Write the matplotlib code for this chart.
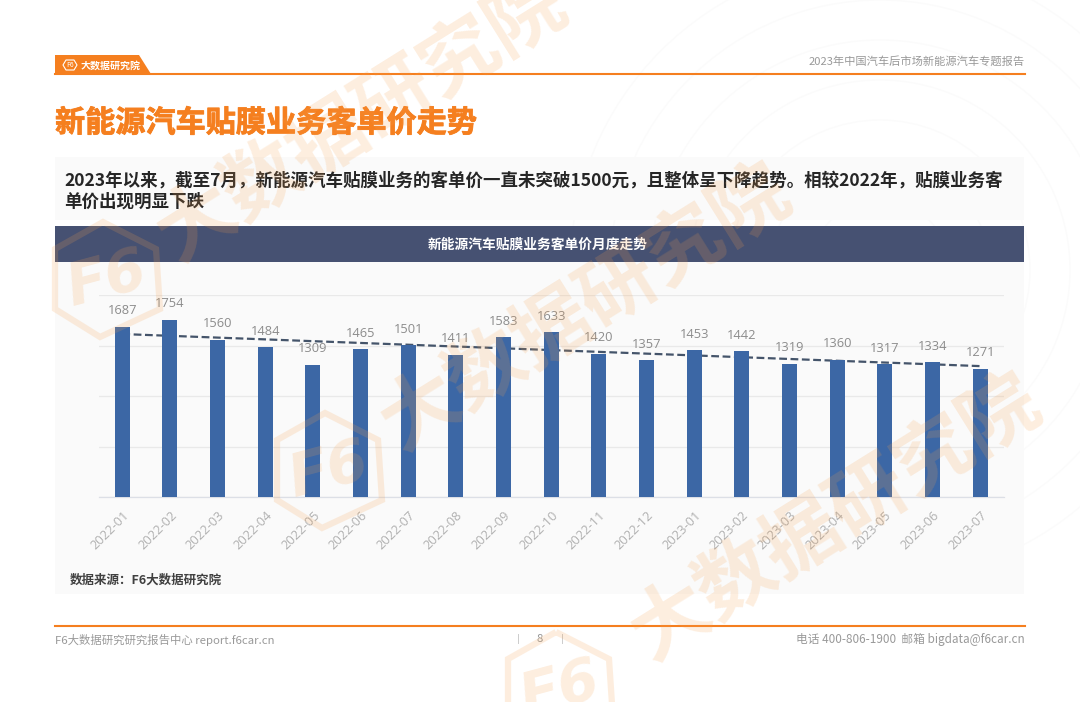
# -*- coding: utf-8 -*-
"""
New energy vehicle film business, monthly price per customer.
"""

import matplotlib
matplotlib.use('Agg')
import matplotlib.pyplot as plt
import matplotlib.patheffects as pe
from matplotlib.patches import Circle, Polygon, Rectangle

plt.rcParams['font.family'] = ['Noto Sans CJK SC', 'DejaVu Sans']

W, H = 1080, 702
ORANGE = '#f57f1f'
GREY = '#999999'

months = ['2022-01', '2022-02', '2022-03', '2022-04', '2022-05', '2022-06',
          '2022-07', '2022-08', '2022-09', '2022-10', '2022-11', '2022-12',
          '2023-01', '2023-02', '2023-03', '2023-04', '2023-05', '2023-06',
          '2023-07']
price = [1687, 1754, 1560, 1484, 1309, 1465, 1501, 1411, 1583, 1633, 1420,
         1357, 1453, 1442, 1319, 1360, 1317, 1334, 1271]
# trend line ends
trend_x = [0, 18]
trend_y = [1614, 1297]

fig = plt.figure(figsize=(W / 100, H / 100), dpi=100, facecolor='white')

# Page layer in pixel coordinates
page = fig.add_axes([0, 0, 1, 1], zorder=0)
page.set_xlim(0, W)
page.set_ylim(H, 0)
page.axis('off')

# Faint arcs behind the header
for r in [70, 110, 150, 190, 230, 270, 310]:
    page.add_patch(Circle((880, 270), r, fill=False, ec='#fbfbfb', lw=1))

page.add_patch(Rectangle((55, 157), 969, 63, color='#fafafa', lw=0))
page.add_patch(Rectangle((55, 262), 969, 332, color='#fafafa', lw=0))
page.add_patch(Rectangle((55, 226), 969, 36, color='#465172', lw=0))

# Header and footer
page.plot([55, 1025], [73.5, 73.5], color=ORANGE, lw=1.5)
page.add_patch(Polygon([(55, 55), (139, 55), (151, 74), (55, 74)],
                       closed=True, color=ORANGE, lw=0))
page.text(81, 65.5, '大数据研究院', color='white', fontsize=7.2, weight='bold',
          va='center')
page.add_patch(Polygon([(63, 65), (66, 60), (74, 60), (77, 65), (74, 70),
                        (66, 70)], closed=True, fill=False, ec='white', lw=0.8))
page.text(70, 65, 'F6', color='white', fontsize=5, ha='center', va='center',
          style='italic')
page.text(1025, 61, '2023年中国汽车后市场新能源汽车专题报告', color=GREY,
          fontsize=8.1, ha='right', va='center')

title = page.text(55, 123, '新能源汽车贴膜业务客单价走势', color=ORANGE,
                  fontsize=21.7, weight='bold', va='center')
title.set_path_effects([pe.withStroke(linewidth=0.6, foreground=ORANGE)])
page.text(64, 180.5, '2023年以来，截至7月，新能源汽车贴膜业务的客单价一直未突破1500元，且整体呈下降趋势。相较2022年，贴膜业务客',
          color='#262626', fontsize=12.6, weight='bold', va='center')
page.text(64, 202, '单价出现明显下跌', color='#262626', fontsize=12.6,
          weight='bold', va='center')
page.text(538, 244.5, '新能源汽车贴膜业务客单价月度走势', color='white',
          fontsize=9.9, weight='bold', ha='center', va='center')
page.text(70, 580, '数据来源：F6大数据研究院', color='#404040', fontsize=9,
          weight='bold', va='center')

page.plot([55, 1025], [625.5, 625.5], color=ORANGE, lw=1.5)
page.text(55, 640, 'F6大数据研究研究报告中心 report.f6car.cn', color=GREY,
          fontsize=8.2, va='center')
page.text(540, 639, '8', color=GREY, fontsize=8.2, ha='center', va='center')
page.plot([518, 518], [634, 643], color='#cccccc', lw=0.7)
page.plot([562, 562], [634, 643], color='#cccccc', lw=0.7)
page.text(1025, 640, '电话 400-806-1900  邮箱 bigdata@f6car.cn', color=GREY,
          fontsize=8.45, ha='right', va='center')

# Chart
ax = fig.add_axes([98.5 / W, 1 - 497.3 / H, 905.5 / W, 202.3 / H], zorder=1)
ax.patch.set_alpha(0)
ax.plot(trend_x, trend_y, color='#44546a', lw=1.6, ls=(0, (3.5, 1.6)), zorder=2)
ax.bar(range(len(price)), price, width=0.315, color='#3c67a5', zorder=3)
for i, value in enumerate(price):
    ax.annotate(str(value), (i, value), xytext=(0, 11.5),
                textcoords='offset points', ha='center', va='center',
                color='#8c8c8c', fontsize=9.3, family=['Open Sans', 'DejaVu Sans'],
                zorder=5)
ax.set_xlim(-0.5, 18.5)
ax.set_ylim(0, 2000)
ax.set_yticks([0, 500, 1000, 1500, 2000])
ax.set_yticklabels([])
ax.set_xticks(range(len(months)))
ax.set_xticklabels(months, rotation=45, ha='right', rotation_mode='anchor',
                   color='#b0b0b0', fontsize=9.3,
                   family=['Open Sans', 'DejaVu Sans'])
ax.tick_params(length=0, pad=8)
ax.grid(axis='y', color='#e9e9e9', lw=0.9, zorder=0)
ax.set_axisbelow(True)
for side in ['top', 'right', 'left']:
    ax.spines[side].set_visible(False)
ax.spines['bottom'].set_color('#dcdfe6')
ax.spines['bottom'].set_linewidth(0.9)

# Watermarks on top of everything
mark = fig.add_axes([0, 0, 1, 1], zorder=2)
mark.set_xlim(0, W)
mark.set_ylim(H, 0)
mark.axis('off')
mark.patch.set_alpha(0)
WM = '#f6a04d'
for x, y in [(362, 120), (586, 309), (836, 519)]:
    mark.text(x, y, '大数据研究院', color=WM, alpha=0.18, fontsize=56,
              weight='bold', rotation=32, ha='center', va='center')
hex_shape = [(-4, -58), (49, -31), (53, 29), (-7, 57), (-52, 29), (-52, -31)]
for cx, cy in [(107, 280), (329, 471), (560, 690)]:
    mark.add_patch(Polygon([(cx + dx, cy + dy) for dx, dy in hex_shape],
                           closed=True, fill=False, ec=WM, lw=4.5, alpha=0.18))
    mark.text(cx, cy, 'F6', color=WM, alpha=0.18, fontsize=42, weight='bold',
              style='italic', rotation=15, ha='center', va='center',
              family='DejaVu Sans')

fig.savefig('out.png', dpi=100)
